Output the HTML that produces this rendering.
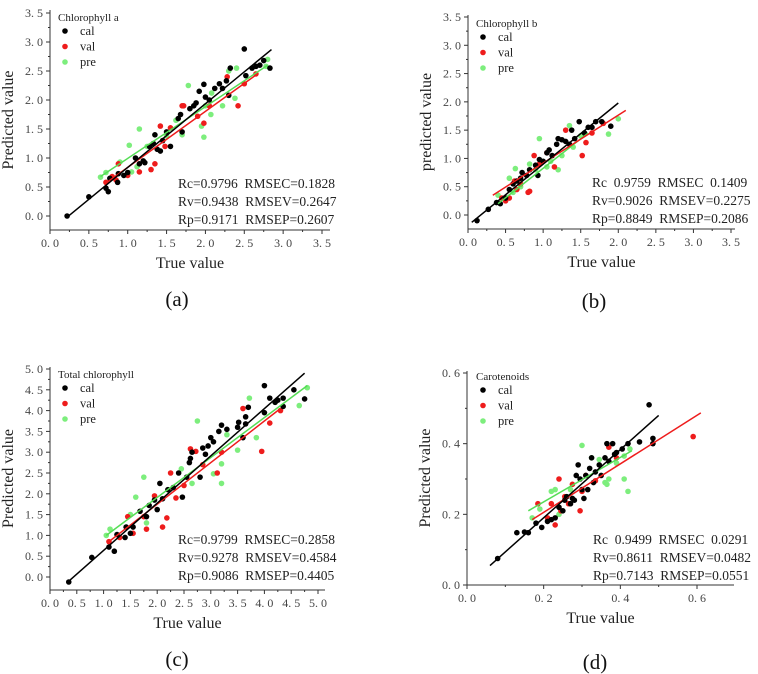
<!DOCTYPE html>
<html><head><meta charset="utf-8"><style>
html,body{margin:0;padding:0;background:#fff;}
svg{display:block;font-family:"Liberation Serif",serif;}
svg text{white-space:pre;}
</style></head><body>
<svg id="chart" width="758" height="674" viewBox="0 0 758 674" xmlns="http://www.w3.org/2000/svg"></svg>
<script>
// Panel (a) Chlorophyll a
const aCalX=[0.22,0.5,0.72,0.75,0.77,0.87,0.88,0.95,1.0,1.1,1.15,1.2,1.22,1.28,1.33,1.35,1.38,1.42,1.45,1.5,1.55,1.65,1.68,1.7,1.8,1.85,1.88,1.92,1.98,2.0,2.05,2.12,2.18,2.22,2.27,2.3,2.32,2.5,2.52,2.6,2.65,2.7,2.75,2.83];
const aCalY=[0,0.33,0.48,0.42,0.65,0.58,0.73,0.7,0.75,1.0,0.9,0.95,0.92,1.2,1.25,1.4,1.15,1.12,1.3,1.45,1.2,1.68,1.75,1.45,1.85,1.9,1.95,2.15,2.27,2.05,2.0,2.2,2.28,2.2,2.33,2.08,2.55,2.88,2.42,2.55,2.58,2.6,2.68,2.55];
const aValX=[0.72,0.8,0.85,0.88,1.0,1.15,1.3,1.35,1.42,1.48,1.55,1.7,1.72,1.9,1.98,2.05,2.28,2.42,2.5,2.65];
const aValY=[0.58,0.68,0.62,0.9,0.7,0.76,0.8,0.9,1.55,1.2,1.52,1.9,1.9,1.72,1.6,1.9,2.4,1.9,2.28,2.45];
const aPreX=[0.65,0.72,0.9,1.02,1.05,1.12,1.15,1.25,1.5,1.62,1.7,1.78,1.95,1.98,2.0,2.07,2.08,2.22,2.3,2.38,2.4,2.8,2.78];
const aPreY=[0.67,0.75,0.93,1.22,0.76,0.85,1.5,1.2,1.38,1.65,1.4,2.25,1.55,1.36,1.9,1.75,2.12,1.9,2.5,2.03,2.55,2.7,2.58];
const aFitX={cal:[0.22,2.85],val:[0.7,2.67],pre:[0.65,2.8]};
const aFitY={cal:[-0.02,2.87],val:[0.55,2.45],pre:[0.68,2.6]};
const aTicks=[0,0.5,1.0,1.5,2.0,2.5,3.0,3.5];
// Panel (b) Chlorophyll b
const bCalX=[0.12,0.27,0.38,0.43,0.5,0.55,0.6,0.65,0.7,0.72,0.78,0.82,0.9,0.93,0.95,1.0,1.05,1.08,1.12,1.18,1.2,1.25,1.3,1.35,1.38,1.42,1.48,1.55,1.6,1.65,1.7,1.78,1.9];
const bCalY=[-0.1,0.1,0.22,0.2,0.3,0.45,0.55,0.6,0.65,0.75,0.7,0.8,0.88,0.7,0.98,0.95,1.1,1.15,1.05,1.25,1.35,1.33,1.3,1.25,1.5,1.35,1.65,1.45,1.55,1.55,1.65,1.65,1.57];
const bValX=[0.45,0.5,0.55,0.62,0.65,0.7,0.8,0.82,0.88,0.95,1.05,1.15,1.3,1.52,1.57,1.65,1.8];
const bValY=[0.3,0.25,0.3,0.6,0.45,0.55,0.4,0.42,1.05,0.9,1.1,0.85,1.5,1.05,1.28,1.45,1.62];
const bPreX=[0.4,0.55,0.6,0.63,0.7,0.82,0.9,0.95,1.05,1.1,1.2,1.25,1.35,1.4,1.5,1.87,2.0];
const bPreY=[0.35,0.65,0.4,0.82,0.5,0.9,0.8,1.35,0.85,0.95,0.8,1.05,1.58,1.2,1.4,1.43,1.7];
const bFitX={cal:[0.05,2.0],val:[0.33,2.1],pre:[0.4,1.6]};
const bFitY={cal:[-0.13,1.98],val:[0.35,1.85],pre:[0.2,1.45]};
const bTicks=[0,0.5,1.0,1.5,2.0,2.5,3.0,3.5];
// Panel (c) Total chlorophyll
const cCalX=[0.35,0.78,1.1,1.2,1.25,1.4,1.42,1.5,1.55,1.68,1.8,1.85,1.95,2.0,2.05,2.1,2.2,2.3,2.4,2.47,2.55,2.6,2.62,2.65,2.8,2.85,2.9,2.95,3.0,3.05,3.15,3.2,3.3,3.5,3.52,3.6,3.65,3.65,3.7,4.0,4.0,4.1,4.2,4.25,4.35,4.35,4.55,4.75];
const cCalY=[-0.12,0.47,0.72,0.62,1.02,0.95,1.2,1.05,1.2,1.58,1.45,1.72,1.85,1.62,2.25,1.88,2.1,2.15,2.5,1.92,2.4,2.75,2.85,3.0,2.4,3.1,2.95,3.15,3.35,3.25,3.5,3.65,3.55,3.6,3.72,3.35,3.68,3.85,4.08,4.6,3.95,4.3,4.2,4.25,4.3,4.1,4.5,4.28];
const cValX=[1.1,1.3,1.45,1.55,1.75,1.8,1.95,2.1,2.18,2.25,2.35,2.5,2.62,2.72,2.85,3.12,3.2,3.6,3.95,4.1,4.3];
const cValY=[0.85,0.95,1.45,1.05,1.45,1.15,1.95,1.2,1.42,2.5,1.9,2.2,3.08,3.02,2.7,2.5,3.0,4.05,3.02,3.7,4.0];
const cPreX=[1.05,1.12,1.5,1.6,1.75,1.8,2.45,2.65,2.75,3.05,3.2,3.2,3.3,3.5,3.72,3.85,4.2,4.65,4.8];
const cPreY=[1.0,1.15,1.5,1.92,2.4,1.3,2.6,2.25,3.75,2.48,2.25,2.72,3.42,3.05,4.3,3.35,4.2,4.12,4.55];
const cFitX={cal:[0.35,4.75],val:[1.1,4.3],pre:[1.05,4.8]};
const cFitY={cal:[-0.1,4.9],val:[0.85,4.05],pre:[1.0,4.6]};
const cTicks=[0,0.5,1.0,1.5,2.0,2.5,3.0,3.5,4.0,4.5,5.0];
// Panel (d) Carotenoids
const dCalX=[0.08,0.13,0.15,0.16,0.18,0.195,0.21,0.22,0.23,0.24,0.25,0.255,0.26,0.27,0.275,0.28,0.285,0.29,0.295,0.3,0.305,0.31,0.315,0.32,0.325,0.33,0.335,0.345,0.35,0.36,0.365,0.37,0.38,0.385,0.39,0.405,0.42,0.45,0.475,0.485,0.485];
const dCalY=[0.075,0.148,0.15,0.148,0.175,0.163,0.18,0.185,0.19,0.22,0.21,0.24,0.25,0.23,0.245,0.24,0.31,0.34,0.3,0.27,0.245,0.31,0.27,0.33,0.36,0.29,0.32,0.34,0.31,0.36,0.4,0.35,0.4,0.37,0.375,0.385,0.4,0.405,0.51,0.415,0.4];
const dValX=[0.185,0.21,0.22,0.23,0.24,0.245,0.255,0.265,0.275,0.295,0.3,0.31,0.335,0.37,0.39,0.59];
const dValY=[0.23,0.19,0.23,0.17,0.3,0.21,0.25,0.23,0.285,0.21,0.265,0.31,0.295,0.39,0.36,0.42];
const dPreX=[0.17,0.19,0.22,0.23,0.24,0.27,0.3,0.325,0.345,0.36,0.365,0.37,0.39,0.41,0.42,0.41,0.425];
const dPreY=[0.19,0.215,0.265,0.27,0.2,0.27,0.395,0.36,0.355,0.29,0.285,0.3,0.345,0.3,0.265,0.365,0.385];
const dFitX={cal:[0.06,0.5],val:[0.17,0.61],pre:[0.16,0.43]};
const dFitY={cal:[0.055,0.48],val:[0.185,0.487],pre:[0.21,0.38]};
const dXTicks=[0,0.2,0.4,0.6];
const dYTicks=[0,0.2,0.4,0.6];

const NS="http://www.w3.org/2000/svg";
const svg=document.getElementById('chart');
const COL={cal:'#000',val:'#ee1c1c',pre:'#7dee7d'};
function mk(tag,attrs,parent){const e=document.createElementNS(NS,tag);for(const k in attrs)e.setAttribute(k,attrs[k]);(parent||svg).appendChild(e);return e;}
function fmt(v,d){return v.toFixed(d).replace('.', '. ');}

function panel(p){
  const g=mk('g',{});
  
  
  const sx=v=>p.x0+(v-p.xmin)/(p.xmax-p.xmin)*(p.x1-p.x0);
  const sy=v=>p.y0+(v-p.ymin)/(p.ymax-p.ymin)*(p.y1-p.y0);
  const ya=mk('line',{x1:p.ax,y1:p.top,x2:p.ax,y2:p.bot,stroke:'#333','stroke-width':1},g);
  
  const xa=mk('line',{x1:p.ax,y1:p.bot,x2:p.right,y2:p.bot,stroke:'#333','stroke-width':1},g);
  
  p.xt.forEach((v,i)=>{
    const x=sx(v);
    mk('line',{x1:x,y1:p.bot,x2:x,y2:p.bot+4,stroke:'#333'},g);
    if(i<p.xt.length-1){const xm=sx((v+p.xt[i+1])/2);mk('line',{x1:xm,y1:p.bot,x2:xm,y2:p.bot+2,stroke:'#333'},g);}
    const t=mk('text',{x:x,y:p.bot+17,'text-anchor':'middle','font-size':12,fill:'#444'},g);
    t.textContent=fmt(v,1);
    
  });
  p.yt.forEach((v,i)=>{
    const y=sy(v);
    mk('line',{x1:p.ax-4,y1:y,x2:p.ax,y2:y,stroke:'#333'},g);
    if(i<p.yt.length-1){const ym=sy((v+p.yt[i+1])/2);mk('line',{x1:p.ax-2,y1:ym,x2:p.ax,y2:ym,stroke:'#333'},g);}
    const t=mk('text',{x:p.ax-7,y:y+4,'text-anchor':'end','font-size':12,fill:'#444'},g);
    t.textContent=fmt(v,1);
    
  });
  ['pre','val','cal'].forEach(s=>{
    const X=p.data[s][0],Y=p.data[s][1];
    for(let i=0;i<X.length;i++){
      const c=mk('circle',{cx:sx(X[i]),cy:sy(Y[i]),r:2.8,fill:COL[s]},g);
      
      
    }
  });
  ['pre','val','cal'].forEach(s=>{
    const l=mk('line',{x1:sx(p.fx[s][0]),y1:sy(p.fy[s][0]),x2:sx(p.fx[s][1]),y2:sy(p.fy[s][1]),stroke:s==='pre'?'#55dd55':COL[s],'stroke-width':1.5},g);
    
    
  });
  const lt=mk('text',{x:p.lx,y:p.ly,'font-size':11,fill:'#222'},g);
  lt.textContent=p.title;
  
  ['cal','val','pre'].forEach((s,i)=>{
    const y=p.ly+14+i*15.5;
    const c=mk('circle',{cx:p.lx+7,cy:y-4,r:2.8,fill:COL[s]},g);
    
    const t=mk('text',{x:p.lx+22,y:y,'font-size':12.5,fill:'#222'},g);
    t.textContent=s;
    
  });
  p.stats.forEach((s,i)=>{
    const t=mk('text',{x:p.sx,y:p.sy+i*18,'font-size':13.5,fill:'#222'},g);
    t.textContent=s;
    
  });
  const xl=mk('text',{x:(p.ax+p.right)/2,y:p.bot+38,'text-anchor':'middle','font-size':16,fill:'#222'},g);
  xl.textContent='True value';
  
  const ycy=(p.top+p.bot)/2;
  const yl=mk('text',{x:p.ax-37,y:ycy,'text-anchor':'middle','font-size':16,fill:'#222',transform:`rotate(-90 ${p.ax-37} ${ycy})`},g);
  yl.textContent=p.ytitle;
  
  const cap=mk('text',{x:p.capx,y:p.capy,'text-anchor':'middle','font-size':21,fill:'#111'},g);
  cap.textContent=p.cap;
  
}

panel({name:'panel-a',xmin:0,xmax:3.5,x0:50,x1:322,ymin:0,ymax:3.5,y0:216,y1:13,ax:50,top:10,bot:230,right:330,
  xt:aTicks,yt:aTicks,data:{cal:[aCalX,aCalY],val:[aValX,aValY],pre:[aPreX,aPreY]},fx:aFitX,fy:aFitY,
  title:'Chlorophyll a',lx:58,ly:21,stats:['Rc=0.9796  RMSEC=0.1828','Rv=0.9438  RMSEV=0.2647','Rp=0.9171  RMSEP=0.2607'],sx:178,sy:188,
  ytitle:'Predicted value',cap:'(a)',capx:177,capy:306});
panel({name:'panel-b',xmin:0,xmax:3.5,x0:468,x1:731,ymin:0,ymax:3.5,y0:215,y1:17,ax:468,top:15,bot:229,right:735,
  xt:bTicks,yt:bTicks,data:{cal:[bCalX,bCalY],val:[bValX,bValY],pre:[bPreX,bPreY]},fx:bFitX,fy:bFitY,
  title:'Chlorophyll b',lx:476,ly:27,stats:['Rc  0.9759  RMSEC  0.1409','Rv=0.9026  RMSEV=0.2275','Rp=0.8849  RMSEP=0.2086'],sx:592,sy:187,
  ytitle:'predicted value',cap:'(b)',capx:594,capy:308});
panel({name:'panel-c',xmin:0,xmax:5,x0:50,x1:318,ymin:0,ymax:5,y0:577,y1:369,ax:50,top:367,bot:590,right:325,
  xt:cTicks,yt:cTicks,data:{cal:[cCalX,cCalY],val:[cValX,cValY],pre:[cPreX,cPreY]},fx:cFitX,fy:cFitY,
  title:'Total chlorophyll',lx:58,ly:378,stats:['Rc=0.9799  RMSEC=0.2858','Rv=0.9278  RMSEV=0.4584','Rp=0.9086  RMSEP=0.4405'],sx:178,sy:544,
  ytitle:'Predicted value',cap:'(c)',capx:177,capy:666});
panel({name:'panel-d',xmin:0,xmax:0.6,x0:467,x1:697,ymin:0,ymax:0.6,y0:585,y1:373,ax:467,top:371,bot:585,right:734,
  xt:dXTicks,yt:dYTicks,data:{cal:[dCalX,dCalY],val:[dValX,dValY],pre:[dPreX,dPreY]},fx:dFitX,fy:dFitY,
  title:'Carotenoids',lx:476,ly:380,stats:['Rc  0.9499  RMSEC  0.0291','Rv=0.8611  RMSEV=0.0482','Rp=0.7143  RMSEP=0.0551'],sx:593,sy:544,
  ytitle:'Predicted value',cap:'(d)',capx:595,capy:669});
</script>
</body></html>
